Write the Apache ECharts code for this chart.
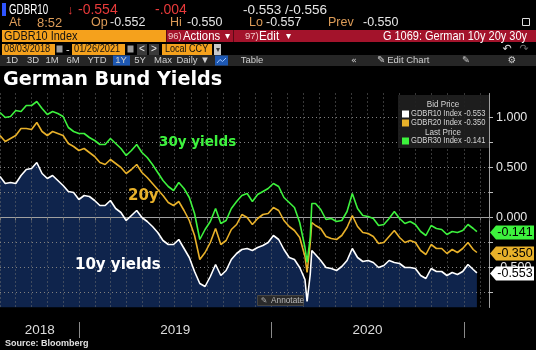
<!DOCTYPE html>
<html>
<head>
<meta charset="UTF-8">
<title>German Bund Yields</title>
<script src="https://cdn.jsdelivr.net/npm/echarts@6/dist/echarts.min.js"></script>
<style>
  html, body { margin: 0; padding: 0; background: #000; }
  #main { width: 536px; height: 350px; }
</style>
</head>
<body>
<div id="main"></div>
<script>
// sample dates (about every 10 days, plus the March 2020 swings)
var dates = [
  '2018-08-03','2018-08-13','2018-08-23','2018-09-02','2018-09-12','2018-09-22','2018-10-02','2018-10-12','2018-10-22','2018-11-01',
  '2018-11-11','2018-11-21','2018-12-01','2018-12-11','2018-12-21','2018-12-31','2019-01-10','2019-01-20','2019-01-30','2019-02-09',
  '2019-02-19','2019-03-01','2019-03-11','2019-03-21','2019-03-31','2019-04-10','2019-04-20','2019-04-30','2019-05-10','2019-05-20',
  '2019-05-30','2019-06-09','2019-06-19','2019-06-29','2019-07-09','2019-07-19','2019-07-29','2019-08-08','2019-08-18','2019-08-28',
  '2019-09-07','2019-09-17','2019-09-27','2019-10-07','2019-10-17','2019-10-27','2019-11-06','2019-11-16','2019-11-26','2019-12-06',
  '2019-12-16','2019-12-26','2020-01-05','2020-01-15','2020-01-25','2020-02-04','2020-02-14','2020-02-24','2020-03-05','2020-03-09',
  '2020-03-15','2020-03-18','2020-03-25','2020-04-04','2020-04-14','2020-04-24','2020-05-04','2020-05-14','2020-05-24','2020-06-03',
  '2020-06-13','2020-06-23','2020-07-03','2020-07-13','2020-07-23','2020-08-02','2020-08-12','2020-08-22','2020-09-01','2020-09-11',
  '2020-09-21','2020-10-01','2020-10-11','2020-10-21','2020-10-31','2020-11-10','2020-11-20','2020-11-30','2020-12-10','2020-12-20',
  '2020-12-30','2021-01-09','2021-01-19','2021-01-26'
];

// GDBR10 (10y)
var y10 = [
  0.41, 0.34, 0.35, 0.34, 0.42, 0.48, 0.49, 0.55, 0.44, 0.39,
  0.42, 0.37, 0.32, 0.26, 0.25, 0.18, 0.22, 0.21, 0.17, 0.12,
  0.12, 0.17, 0.09, 0.05, -0.03, 0.02, 0.07, 0.00, -0.04, -0.09,
  -0.15, -0.23, -0.27, -0.27, -0.22, -0.31, -0.40, -0.54, -0.66, -0.69,
  -0.59, -0.47, -0.58, -0.53, -0.42, -0.36, -0.32, -0.31, -0.33, -0.30,
  -0.28, -0.25, -0.18, -0.22, -0.32, -0.40, -0.42, -0.50,
  -0.62, -0.84, -0.57, -0.33, -0.37, -0.43, -0.50, -0.51, -0.53, -0.49,
  -0.43, -0.31, -0.40, -0.44, -0.43, -0.45, -0.50, -0.48, -0.43, -0.45,
  -0.46, -0.50, -0.50, -0.51, -0.58, -0.61, -0.51, -0.54, -0.54, -0.58,
  -0.55, -0.57, -0.54, -0.47, -0.52, -0.553
];

// GDBR20 (20y)
var y20 = [
  0.82, 0.76, 0.79, 0.82, 0.89, 0.89, 0.88, 0.95, 0.86, 0.82,
  0.86, 0.84, 0.82, 0.74, 0.71, 0.67, 0.69, 0.65, 0.61, 0.55,
  0.53, 0.58, 0.54, 0.50, 0.44, 0.48, 0.53, 0.45, 0.40, 0.34,
  0.28, 0.22, 0.15, 0.12, 0.16, 0.07, -0.03, -0.18, -0.42, -0.35,
  -0.25, -0.11, -0.27, -0.23, -0.12, -0.07, 0.03, 0.00, -0.07, -0.01,
  0.03, 0.04, 0.10, 0.07, -0.03, -0.09, -0.13, -0.20,
  -0.39, -0.55, -0.26, -0.05, -0.08, -0.11, -0.19, -0.21, -0.22, -0.18,
  -0.10, 0.02, -0.09, -0.15, -0.16, -0.19, -0.26, -0.25, -0.19, -0.13,
  -0.20, -0.25, -0.23, -0.25, -0.33, -0.37, -0.27, -0.31, -0.31, -0.36,
  -0.32, -0.35, -0.31, -0.25, -0.32, -0.350
];

// GDBR30 (30y)
var y30 = [
  1.05, 1.00, 1.01, 1.07, 1.06, 1.12, 1.12, 1.16, 1.09, 1.03,
  1.06, 1.04, 1.01, 0.90, 0.86, 0.84, 0.84, 0.80, 0.77, 0.73,
  0.73, 0.79, 0.74, 0.69, 0.62, 0.67, 0.73, 0.65, 0.60, 0.53,
  0.45, 0.37, 0.31, 0.27, 0.35, 0.29, 0.20, 0.04, -0.22, -0.12,
  -0.04, 0.09, -0.06, -0.03, 0.09, 0.16, 0.22, 0.24, 0.16, 0.23,
  0.26, 0.29, 0.34, 0.31, 0.20, 0.15, 0.10, -0.05,
  -0.30, -0.45, -0.20, 0.14, 0.14, 0.08, -0.02, -0.01, -0.04, -0.03,
  0.06, 0.24, 0.09, 0.02, 0.01, -0.01, -0.08, -0.07, -0.01, 0.06,
  -0.01, -0.06, -0.04, -0.07, -0.14, -0.18, -0.08, -0.11, -0.12, -0.17,
  -0.14, -0.15, -0.13, -0.07, -0.11, -0.141
];

var yTicks = [-0.75, -0.5, -0.25, 0, 0.25, 0.5, 0.75, 1.0];
var yLabels = [-0.5, 0, 0.5, 1.0];
var years = [2018, 2019, 2020];
var xStart = '2018-08-03', xEnd = '2021-02-18';

var C10 = '#ffffff', C20 = '#e8b12a', C30 = '#3df23d';
var GRID = '#808080';
var FONT = '"Liberation Sans", Arial, sans-serif';
var BOLD = '"DejaVu Sans", sans-serif';

function pairs(vals) {
  return dates.map(function (d, i) { return [d, vals[i]]; });
}

// small helpers for the terminal chrome
function txt(x, y, s, color, size, o) {
  o = o || {};
  var al = o.align || 'left';
  return {
    type: 'text', x: x, y: y, scaleX: o.sx || 1, z: 100, silent: true,
    style: {
      x: 0, y: 0, text: s, fill: color,
      font: (o.bold ? 'bold ' : '') + size + 'px ' + (o.family || FONT),
      textAlign: al, textVerticalAlign: 'middle', align: al, verticalAlign: 'middle'
    }
  };
}
function box(x, y, w, h, fill, stroke) {
  return {
    type: 'rect', z: 90, silent: true,
    shape: { x: x, y: y, width: w, height: h },
    style: { fill: fill, stroke: stroke || null, lineWidth: 1 }
  };
}
function vline(x, y1, y2, color) {
  return {
    type: 'line', z: 95, silent: true,
    shape: { x1: x, y1: y1, x2: x, y2: y2 },
    style: { stroke: color, lineWidth: 1 }
  };
}

var chart = echarts.init(document.getElementById('main'));

var option = {
  backgroundColor: '#000',
  animation: false,
  // half-pixel top so the 0.25 grid lines fall on pixel centres
  grid: { left: 0, right: 47, top: 93.5, bottom: 42.5 },
  xAxis: {
    type: 'time',
    min: xStart,
    max: xEnd,
    minInterval: 28 * 864e5,
    maxInterval: 31 * 864e5,
    z: 2,
    axisLine: { show: true, lineStyle: { color: '#a0a0a0', width: 1 } },
    axisTick: { show: true, length: 3, lineStyle: { color: '#777' } },
    axisLabel: { show: false },
    splitLine: { show: true, lineStyle: { type: [1, 3], color: '#707070', width: 1 } }
  },
  yAxis: {
    type: 'value',
    position: 'right',
    min: -0.9,
    max: 1.24,
    z: 2,
    axisLine: { show: true, lineStyle: { color: '#a0a0a0', width: 1 } },
    axisTick: { show: true, customValues: yTicks, length: 4, lineStyle: { color: '#bbb' } },
    axisLabel: {
      customValues: yLabels,
      color: '#e6e6e6', fontSize: 12.5, fontFamily: FONT, margin: 7,
      formatter: function (v) { return v.toFixed(3); }
    },
    splitLine: { show: false }
  },
  series: [
    {
      name: 'GDBR10 area', type: 'line', data: pairs(y10), symbol: 'none', silent: true, z: 1,
      lineStyle: { width: 0 },
      areaStyle: { color: '#0f244c', opacity: 1, origin: 'start' },
      // horizontal dotted grid at every 0.25
      markLine: {
        silent: true, z: 2, symbol: ['none', 'none'], label: { show: false },
        lineStyle: { type: [1, 3], color: GRID, width: 1 },
        emphasis: { disabled: true },
        data: yTicks.map(function (v) { return { yAxis: v }; })
      }
    },
    {
      name: 'GDBR10', type: 'line', data: pairs(y10), symbol: 'none', z: 3,
      lineStyle: { color: C10, width: 1.6 }
    },
    {
      name: 'GDBR20', type: 'line', data: pairs(y20), symbol: 'none', z: 3,
      lineStyle: { color: C20, width: 1.6 }
    },
    {
      name: 'GDBR30', type: 'line', data: pairs(y30), symbol: 'none', z: 3,
      lineStyle: { color: C30, width: 1.6 }
    }
  ]
};
chart.setOption(option);

var ORANGE = '#f5a11c', RED = '#a3132b', TAN = '#dd9c58', LIGHT = '#e6e6e6';
var g = [];

// row 1 : quote line
g.push(box(2, 3, 4, 13, '#2f55ff'));
g.push(txt(9, 10, 'GDBR10', '#fff', 14, { sx: 0.7 }));
g.push(txt(67, 10, '\u2193', '#e83a3a', 13));
g.push(txt(78, 10, '-0.554', '#e83a3a', 14));
g.push(txt(155, 10, '-.004', '#e83a3a', 14));
g.push(txt(243, 10, '-0.553 /-0.556', LIGHT, 13.5));
// row 2
g.push(txt(9, 23, 'At', TAN, 12.5));
g.push(txt(37, 23, '8:52', TAN, 13));
g.push(txt(91, 23, 'Op', TAN, 12.5));
g.push(txt(110, 23, '-0.552', LIGHT, 12.5));
g.push(txt(170, 23, 'Hi', TAN, 12.5));
g.push(txt(187, 23, '-0.550', LIGHT, 12.5));
g.push(txt(249, 23, 'Lo', TAN, 12.5));
g.push(txt(266, 23, '-0.557', LIGHT, 12.5));
g.push(txt(328, 23, 'Prev', TAN, 12.5));
g.push(txt(363, 23, '-0.550', LIGHT, 12.5));
g.push(box(522.5, 18.5, 7, 7, null, '#ddd'));
// row 3
g.push(box(2, 30, 164, 12, ORANGE));
g.push(txt(4, 36, 'GDBR10 Index', '#111', 13, { sx: 0.84 }));
g.push(box(166, 30, 370, 12, RED));
g.push(vline(166.5, 30, 42, '#5a0a15'));
g.push(vline(233.5, 30, 42, '#5a0a15'));
g.push(txt(168, 36.5, '96)', '#f2c9c9', 9.5));
g.push(txt(183, 36, 'Actions', '#fff', 13, { sx: 0.87 }));
g.push(txt(225, 36.5, '\u25be', '#fff', 10));
g.push(txt(245, 36.5, '97)', '#f2c9c9', 9.5));
g.push(txt(259, 36, 'Edit', '#fff', 13, { sx: 0.9 }));
g.push(txt(286, 36.5, '\u25be', '#fff', 10));
g.push(txt(527, 36, 'G 1069: German 10y 20y 30y', '#fff', 13, { sx: 0.845, align: 'right' }));
// row 4 : date range
g.push(box(2, 44, 53, 11, ORANGE));
g.push(txt(4, 49.5, '08/03/2018', '#111', 10.5, { sx: 0.88 }));
g.push(box(56.5, 45.5, 6, 7, '#9a9a9a'));
g.push(txt(66, 49.5, '-', '#ddd', 11));
g.push(box(72, 44, 53, 11, ORANGE));
g.push(txt(74, 49.5, '01/26/2021', '#111', 10.5, { sx: 0.88 }));
g.push(box(127.5, 45.5, 6, 7, '#9a9a9a'));
g.push(box(137, 44, 10, 11, '#3a3a3a'));
g.push(txt(142, 49.5, '<', '#eee', 10, { align: 'center' }));
g.push(box(149, 44, 10, 11, '#3a3a3a'));
g.push(txt(154, 49.5, '>', '#eee', 10, { align: 'center' }));
g.push(box(162, 44, 50, 11, ORANGE));
g.push(txt(165, 49.5, 'Local CCY', '#111', 10.5, { sx: 0.86 }));
g.push(box(214, 44, 7, 11, '#c8c8c8'));
g.push(txt(217.5, 49.5, '\u25be', '#333', 8, { align: 'center' }));
g.push(txt(507, 49.5, '\u21b6', '#ddd', 11, { align: 'center', family: BOLD }));
g.push(txt(524, 49.5, '\u21b7', '#666', 11, { align: 'center', family: BOLD }));
// row 5 : toolbar
g.push(box(0, 55, 536, 11, '#262626'));
g.push(box(113, 55.5, 17, 10, '#1d58b3'));
g.push(box(215, 55.5, 13, 10, '#1d58b3'));
g.push({
  type: 'polyline', z: 100, silent: true,
  shape: { points: [[217, 63], [220, 59.5], [222.5, 61.5], [226, 58]] },
  style: { stroke: '#9cc3ff', lineWidth: 1, fill: null }
});
[['1D', 12], ['3D', 33], ['1M', 52], ['6M', 73], ['YTD', 97], ['1Y', 121], ['5Y', 140],
 ['Max', 163], ['Daily \u25bc', 193], ['Table', 252], ['\u00ab', 354], ['\u270e Edit Chart', 403],
 ['\u270e', 466], ['\u2699', 512]].forEach(function (it) {
  g.push(txt(it[1], 60.5, it[0], '#cfcfcf', 9.5, { align: 'center', family: it[0].length < 2 ? BOLD : FONT }));
});

// title and series captions
g.push(txt(3, 80, 'German Bund Yields', '#fff', 20, { bold: true, family: BOLD, sx: 0.96 }));
g.push(txt(159, 142, '30y yields', C30, 13.5, { bold: true, family: BOLD }));
g.push(txt(128, 196, '20y', C20, 15, { bold: true, family: BOLD }));
g.push(txt(75, 265, '10y yields', C10, 15, { bold: true, family: BOLD }));

// legend box
g.push(box(398, 95, 91, 53, 'rgba(32,32,32,0.92)'));
g.push(txt(443, 105, 'Bid Price', '#d4d4d4', 9, { align: 'center', sx: 0.9 }));
g.push(box(402, 110.5, 7, 7, C10));
g.push(txt(411, 114, 'GDBR10 Index -0.553', '#d4d4d4', 9, { sx: 0.84 }));
g.push(box(402, 119.5, 7, 7, C20));
g.push(txt(411, 123, 'GDBR20 Index -0.350', '#d4d4d4', 9, { sx: 0.84 }));
g.push(txt(443, 132.5, 'Last Price', '#d4d4d4', 9, { align: 'center', sx: 0.9 }));
g.push(box(402, 137.5, 7, 7, C30));
g.push(txt(411, 141, 'GDBR30 Index -0.141', '#d4d4d4', 9, { sx: 0.84 }));

// annotate button
g.push(box(257.5, 295.5, 46, 10, '#2a2a2a', '#444'));
g.push(txt(264, 300.5, '\u270e', '#aaa', 8, { align: 'center', family: BOLD }));
g.push(txt(271, 300.5, 'Annotate', '#bbb', 9, { sx: 0.92 }));

// last value tags on the right axis
[[y30, C30], [y20, C20], [y10, C10]].forEach(function (s) {
  var v = s[0][s[0].length - 1];
  var y = Math.round(chart.convertToPixel({ yAxisIndex: 0 }, v)) + 0.5;
  g.push({
    type: 'polygon', z: 110, silent: true,
    shape: { points: [[490, y], [496, y - 7], [534, y - 7], [534, y + 7], [496, y + 7]] },
    style: { fill: s[1] }
  });
  var t = txt(515, y, v.toFixed(3), '#000', 12.5, { align: 'center' });
  t.z = 111;
  g.push(t);
});

// year labels under the axis
var t0 = +echarts.time.parse(xStart), t1 = +echarts.time.parse(xEnd);
function px(t) { return chart.convertToPixel({ xAxisIndex: 0 }, t); }
years.forEach(function (yr) {
  var a = +new Date(yr, 0, 1), b = +new Date(yr + 1, 0, 1);
  var left = px(Math.max(a, t0)), right = px(Math.min(b, t1));
  g.push(txt((left + right) / 2, 330, String(yr), '#dcdcdc', 13.5, { align: 'center' }));
  if (b < t1) g.push(vline(Math.round(px(b)) + 0.5, 322, 338, '#8a8a8a'));
});

g.push(txt(5, 344, 'Source: Bloomberg', '#e0e0e0', 9, { bold: true }));

chart.setOption({ graphic: { elements: g } });
</script>
</body>
</html>
